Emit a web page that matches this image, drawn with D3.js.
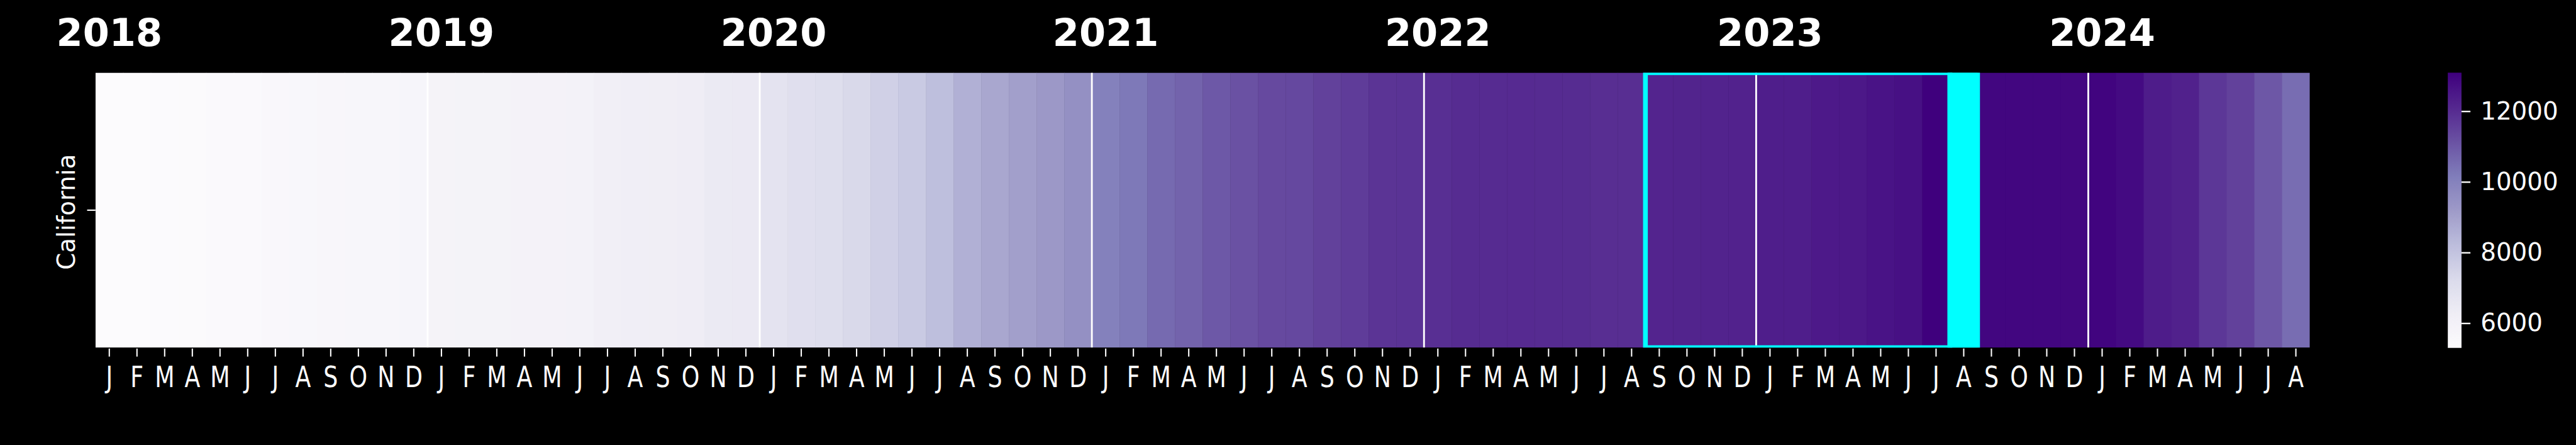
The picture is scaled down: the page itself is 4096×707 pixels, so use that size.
<!DOCTYPE html>
<html><head><meta charset="utf-8">
<script src="https://cdn.jsdelivr.net/npm/d3@7"></script>
<style>html,body{margin:0;padding:0;background:#000;overflow:hidden}</style>
</head><body>
<svg id="chart"></svg>
<script>
// ---------------- data ----------------
const rowLabels = ["California"];
const years = [2018, 2019, 2020, 2021, 2022, 2023, 2024];
const monthLetters = ["J","F","M","A","M","J","J","A","S","O","N","D"];
// monthly values, Jan 2018 .. Aug 2024 (80 months); Aug 2023 is highlighted (hidden value)
const values2018 = [5300, 5330, 5360, 5390, 5420, 5450, 5560, 5590, 5620, 5650, 5680, 5720];
const values2019 = [5850, 5870, 5890, 5910, 5930, 5950, 6100, 6200, 6220, 6240, 6450, 6480];
const values2020 = [6790, 6990, 7045, 7280, 7580, 7785, 8150, 8580, 8840, 9060, 9260, 9530];
const values2021 = [10030, 10255, 10600, 10745, 10990, 11145, 11330, 11360, 11515, 11635, 11815, 11840];
const values2022 = [11920, 12010, 12030, 12040, 12020, 12010, 11960, 11950, 12180, 12200, 12210, 12230];
const values2023 = [12330, 12350, 12460, 12480, 12620, 12700, 13090, null, 12950, 12940, 12930, 12920];
const values2024 = [12980, 12840, 12380, 12270, 11745, 11515, 11010, 10520];
const highlightMonth = 67;          // Aug 2023 (filled cyan)
const boxMonths = [56, 66];         // Sep 2022 .. Jul 2023 (cyan outline)
const colorbarTicks = [6000, 8000, 10000, 12000];

const values = [].concat(values2018, values2019, values2020, values2021, values2022, values2023, values2024);
const months = values.map((v, i) => ({i, v, m: i % 12}));

// matplotlib "Purples"
const purplesStops = ["#fcfbfd","#efedf5","#dadaeb","#bcbddc","#9e9ac8","#807dba","#6a51a3","#54278f","#3f007d"];

// ---------------- layout (reference pixel space) ----------------
const W = 4327, H = 747;
const svg = d3.select("#chart")
  .attr("width", 4096).attr("height", 707)
  .attr("viewBox", `0 0 ${W} ${H}`)
  .style("display", "block").style("background", "#000");

const plot = {left: 160, right: 3880, top: 122, bottom: 583.6};
const font = "'DejaVu Sans', sans-serif";

const x = d3.scaleBand().domain(d3.range(values.length)).range([plot.left, plot.right]).padding(0);
const y = d3.scaleBand().domain(rowLabels).range([plot.top, plot.bottom]).padding(0);

const ext = d3.extent(values.filter(v => v != null));
const tScale = d3.scaleLinear().domain(ext).range([0, 1]).clamp(true);
const purples = d3.scaleLinear().domain(d3.range(purplesStops.length).map(k => k / (purplesStops.length - 1)))
  .range(purplesStops).interpolate(d3.interpolateRgb);
const color = v => purples(tScale(v));

// clip
svg.append("defs").append("clipPath").attr("id", "plotclip")
  .append("rect").attr("x", plot.left).attr("y", plot.top)
  .attr("width", plot.right - plot.left).attr("height", plot.bottom - plot.top);

const g = svg.append("g").attr("clip-path", "url(#plotclip)");

// cells
g.selectAll("rect.cell").data(months).join("rect")
  .attr("class", "cell")
  .attr("x", d => x(d.i)).attr("y", y(rowLabels[0]))
  .attr("width", x.bandwidth() + 0.5).attr("height", y.bandwidth())
  .attr("fill", d => d.v == null ? "#000" : color(d.v));

// year separators
g.selectAll("line.sep").data(years.slice(1).map((yr, k) => (k + 1) * 12)).join("line")
  .attr("class", "sep")
  .attr("x1", d => x(d)).attr("x2", d => x(d))
  .attr("y1", plot.top).attr("y2", plot.bottom)
  .attr("stroke", "#fff").attr("stroke-width", 3);

// cyan outline box
g.append("rect")
  .attr("x", x(boxMonths[0])).attr("y", plot.top)
  .attr("width", x(boxMonths[1]) + x.bandwidth() - x(boxMonths[0]))
  .attr("height", plot.bottom - plot.top)
  .attr("fill", "none").attr("stroke", "#00ffff").attr("stroke-width", 8);

// highlighted month
g.append("rect")
  .attr("x", x(highlightMonth)).attr("y", plot.top)
  .attr("width", x.bandwidth()).attr("height", plot.bottom - plot.top)
  .attr("fill", "#00ffff").attr("stroke", "#00ffff").attr("stroke-width", 8);

// bottom axis (month letters)
const xAxis = d3.axisBottom(x).tickSize(14).tickFormat(i => monthLetters[i % 12]);
const xg = svg.append("g").attr("transform", `translate(0,${plot.bottom})`).call(xAxis);
xg.select(".domain").remove();
xg.selectAll(".tick line").attr("stroke", "#fff").attr("stroke-width", 2.2).attr("y1", 1.5).attr("y2", 15);
xg.selectAll(".tick text")
  .attr("fill", "#fff").attr("y", 65.7).attr("dy", null)
  .attr("transform", "scale(0.8,1)")
  .style("font-family", font).style("font-size", "48px");

// year labels above
svg.append("g").selectAll("text").data(years).join("text")
  .attr("x", (yr, k) => x(k * 12) + x.bandwidth() / 2)
  .attr("y", 77)
  .attr("text-anchor", "middle")
  .attr("fill", "#fff")
  .style("font-family", font).style("font-weight", "bold").style("font-size", "64px")
  .text(d => d);

// left axis (row label)
const yAxis = d3.axisLeft(y).tickSize(14).tickFormat("");
const yg = svg.append("g").attr("transform", `translate(${plot.left},0)`).call(yAxis);
yg.select(".domain").remove();
yg.selectAll(".tick line").attr("stroke", "#fff").attr("stroke-width", 2.2);
svg.append("text")
  .attr("transform", `translate(125,${(plot.top + plot.bottom) / 2 + 3}) rotate(-90)`)
  .attr("text-anchor", "middle").attr("fill", "#fff")
  .style("font-family", font).style("font-size", "41px")
  .text(rowLabels[0]);

// colorbar
const cb = {x: 4112, w: 23, top: 122, bottom: 584};
const grad = svg.select("defs").append("linearGradient").attr("id", "cbgrad")
  .attr("x1", 0).attr("y1", 1).attr("x2", 0).attr("y2", 0);
d3.range(0, 1.0001, 0.02).forEach(t => {
  grad.append("stop").attr("offset", t).attr("stop-color", purples(t));
});
svg.append("rect").attr("x", cb.x).attr("y", cb.top).attr("width", cb.w).attr("height", cb.bottom - cb.top)
  .attr("fill", "url(#cbgrad)");
const cbScale = d3.scaleLinear().domain(ext).range([cb.bottom, cb.top]);
const cAxis = d3.axisRight(cbScale).tickValues(colorbarTicks).tickSize(15).tickPadding(17).tickFormat(d3.format("d"));
const cg = svg.append("g").attr("transform", `translate(${cb.x + cb.w},0)`).call(cAxis);
cg.select(".domain").remove();
cg.selectAll(".tick line").attr("stroke", "#fff").attr("stroke-width", 2.5);
cg.selectAll(".tick text").attr("fill", "#fff").style("font-family", font).style("font-size", "41px");
</script>
</body></html>
